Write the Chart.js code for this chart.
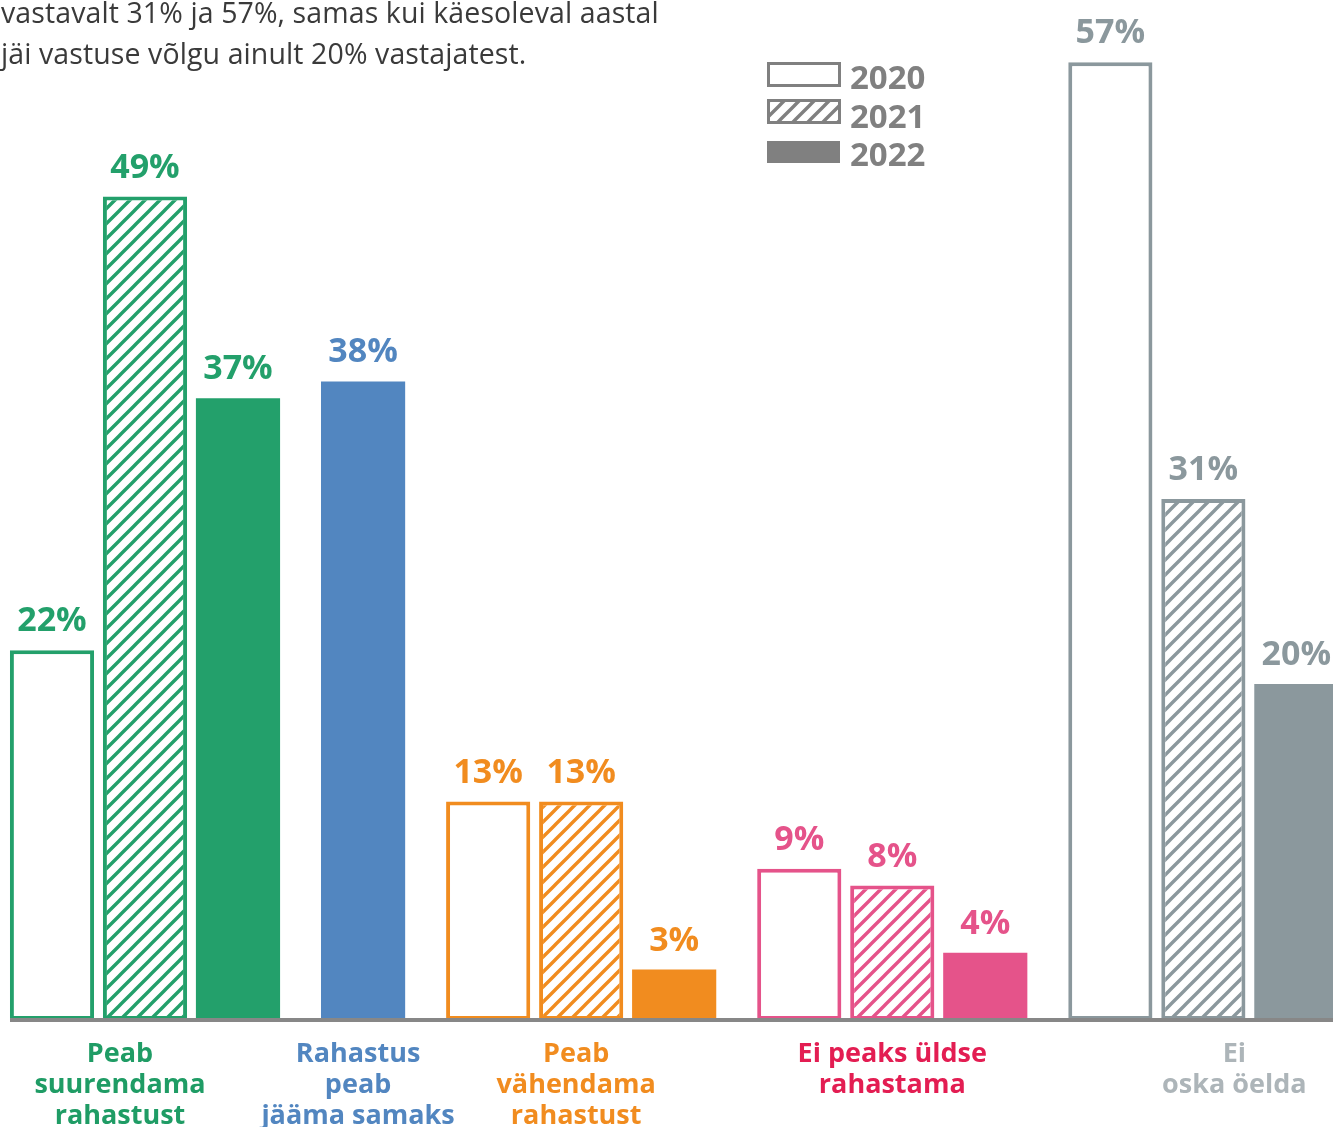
<!DOCTYPE html>
<html>
<head>
<meta charset="utf-8">
<script src="https://cdn.jsdelivr.net/npm/chart.js@4.4.0/dist/chart.umd.min.js"></script>
<style>
html, body { margin: 0; padding: 0; background: #fff; }
#wrap { position: relative; width: 1333px; height: 1127px; overflow: hidden; }
#chart { position: absolute; left: 0; top: 0; }
#intro {
    position: absolute; left: 1px; top: -8px;
    font-family: "Open Sans", sans-serif; font-size: 28.5px; line-height: 41px;
    color: #3a3a3a; letter-spacing: 0.1px; white-space: nowrap;
}
</style>
</head>
<body>
<div id="wrap">
    <canvas id="chart" width="1333" height="1127"></canvas>
    <div id="intro">vastavalt 31% ja 57%, samas kui käesoleval aastal<br>jäi vastuse võlgu ainult 20% vastajatest.</div>
</div>
<script>
// data
const categories = [
    ["Peab", "suurendama", "rahastust"],
    ["Rahastus", "peab", "jääma samaks"],
    ["Peab", "vähendama", "rahastust"],
    ["Ei peaks üldse", "rahastama"],
    ["Ei", "oska öelda"]
];
const years = ["2020", "2021", "2022"];
const values2020 = [22, null, 13, 9, 57];
const values2021 = [49, null, 13, 8, 31];
const values2022 = [37, 38, 3, 4, 20];

// styles
const barColors = ["#23a06b", "#5286c0", "#f18c1f", "#e5538a", "#8b989d"];
const valueColors = ["#23a06b", "#5286c0", "#f18c1f", "#e5538a", "#8b989d"];
const catColors = ["#1f9c65", "#5286c0", "#f18c1f", "#e31d52", "#adb5b9"];
const catShift = [-25, -5, -5, 0, 31];
const GROUP_GAP = 0.345;   // extra space between groups, in bar slots
const FONT = '"Open Sans", sans-serif';

function makeHatch(color, bg) {
    const c = document.createElement("canvas");
    c.width = 15; c.height = 15;
    const g = c.getContext("2d");
    g.fillStyle = bg || "#fff";
    g.fillRect(0, 0, 15, 15);
    g.strokeStyle = color;
    g.lineWidth = 3.4;
    g.beginPath();
    g.moveTo(-3, 18); g.lineTo(18, -3);
    g.moveTo(-3, 3); g.lineTo(3, -3);
    g.moveTo(12, 18); g.lineTo(18, 12);
    g.stroke();
    return g.createPattern(c, "repeat");
}
const hatches = barColors.map(c => makeHatch(c));

// slot positions for every bar, gaps between groups
const seriesValues = [values2020, values2021, values2022];
const groupCenters = [];
const slotData = seriesValues.map(() => []);
let n = 0;
categories.forEach((cat, k) => {
    const first = n;
    seriesValues.forEach((vals, s) => {
        if (vals[k] != null) {
            slotData[s].push({ x: n + 0.5 + GROUP_GAP * k, y: vals[k], cat: k });
            n++;
        }
    });
    groupCenters.push((first + n) / 2 + GROUP_GAP * k);
});

const catOf = ctx => (ctx.raw ? ctx.raw.cat : 0);

const datasets = [
    {
        label: years[0], data: slotData[0],
        backgroundColor: "#fff",
        borderColor: ctx => barColors[catOf(ctx)],
        borderWidth: 4
    },
    {
        label: years[1], data: slotData[1],
        backgroundColor: ctx => hatches[catOf(ctx)],
        borderColor: ctx => barColors[catOf(ctx)],
        borderWidth: 4
    },
    {
        label: years[2], data: slotData[2],
        backgroundColor: ctx => barColors[catOf(ctx)],
        borderWidth: 0
    }
];
datasets.forEach(d => {
    d.grouped = false;
    d.borderSkipped = false;
    d.categoryPercentage = 1;
    d.barPercentage = 0.905;
});

const labelsPlugin = {
    id: "labels",
    afterDatasetsDraw(chart) {
        const g = chart.ctx;
        const xs = chart.scales.x, ys = chart.scales.y;
        const y0 = ys.getPixelForValue(0);
        g.save();

        // baseline
        g.fillStyle = "#878787";
        g.fillRect(10, y0 - 2, chart.width - 10, 4);

        // value labels
        g.textAlign = "center";
        g.textBaseline = "alphabetic";
        g.font = "bold 34px " + FONT;
        chart.data.datasets.forEach((ds, i) => {
            chart.getDatasetMeta(i).data.forEach((el, j) => {
                const raw = ds.data[j];
                g.fillStyle = valueColors[raw.cat];
                g.fillText(raw.y + "%", el.x, el.y - 19);
            });
        });

        // category labels
        g.font = "bold 27px " + FONT;
        categories.forEach((lines, k) => {
            const cx = xs.getPixelForValue(groupCenters[k]) + catShift[k];
            g.fillStyle = catColors[k];
            lines.forEach((t, li) => g.fillText(t, cx, y0 + 42 + li * 31));
        });

        // legend
        const lg = "#808080";
        const legendHatch = makeHatch(lg);
        g.lineWidth = 3;
        g.strokeStyle = lg;
        g.fillStyle = "#fff";
        g.fillRect(768.5, 63.5, 71, 22);
        g.strokeRect(768.5, 63.5, 71, 22);
        g.fillStyle = legendHatch;
        g.fillRect(768.5, 100.5, 71, 22);
        g.strokeRect(768.5, 100.5, 71, 22);
        g.fillStyle = lg;
        g.fillRect(767, 141, 73, 22);
        g.font = "bold 33px " + FONT;
        g.textAlign = "left";
        years.forEach((y, i) => g.fillText(y, 850, 89 + i * 38.5));

        g.restore();
    }
};

new Chart(document.getElementById("chart").getContext("2d"), {
    type: "bar",
    data: { datasets },
    options: {
        responsive: false,
        animation: false,
        layout: { padding: { left: 0, right: 0, top: 0, bottom: 107 } },
        plugins: { legend: { display: false }, tooltip: { enabled: false } },
        scales: {
            x: {
                type: "linear", display: false, offset: false,
                min: -0.059, max: 14.274,
                ticks: { stepSize: 1, includeBounds: false }
            },
            y: { display: false, min: 0, max: 60.7 }
        }
    },
    plugins: [labelsPlugin]
});
</script>
</body>
</html>
